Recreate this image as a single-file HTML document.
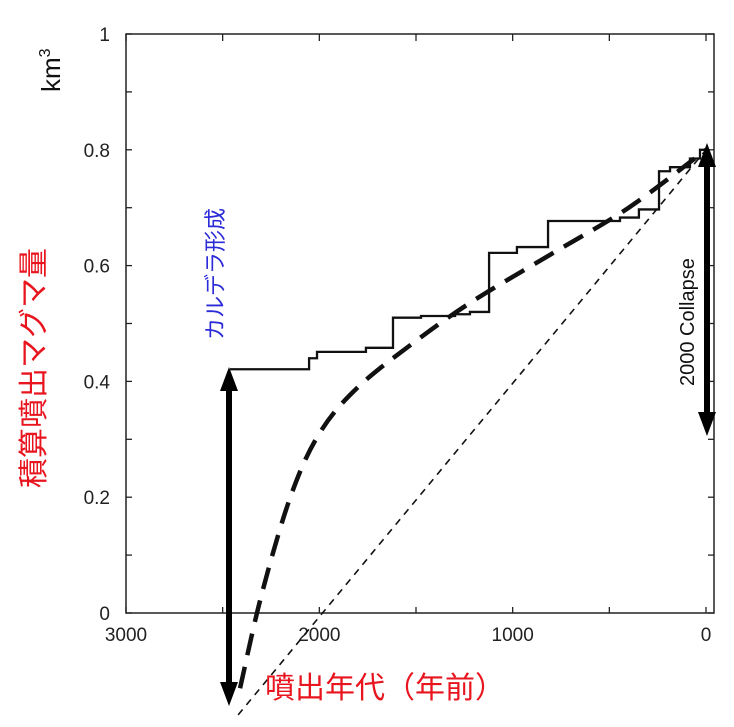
<!DOCTYPE html>
<html><head><meta charset="utf-8"><style>
body{margin:0;background:#fff;}
svg{display:block;font-family:"Liberation Sans","Noto Sans CJK JP",sans-serif;}
</style></head><body>
<svg id="chart" width="734" height="727" viewBox="0 0 734 727">
<g id="axes"></g>
<g id="series"></g>
<g id="ann"></g>
<text x="0" y="0" transform="translate(60,92) rotate(-90)" font-size="26" fill="#111">km<tspan dy="-10" font-size="16">3</tspan></text>
<text x="0" y="0" transform="translate(44,488) rotate(-90)" font-size="30" fill="#e8141e">積算噴出マグマ量</text>
<text x="0" y="0" transform="translate(223,340) rotate(-90)" font-size="22" fill="#2b2bd8">カルデラ形成</text>
<text x="0" y="0" transform="translate(694,386) rotate(-90)" font-size="20" fill="#111">2000 Collapse</text>
<text x="265" y="698" font-size="30" fill="#e8141e">噴出年代（年前）</text>
</svg>
<script>
const xTicks=[3000,2000,1000,0];
const yTicks=[0,0.2,0.4,0.6,0.8,1];
const stepYears=[2462,2053,2012,1759,1619,1474,1298,1221,1122,978,817,445,347,243,186,83,31,0];
const stepValues=[0.421,0.44,0.451,0.458,0.51,0.513,0.516,0.52,0.622,0.632,0.677,0.683,0.697,0.763,0.77,0.785,0.80,0.80];
const curveYears=[2410,2300,2150,2000,1800,1500,1200,800,400,0];
const curveValues=[-0.13,0.03,0.2,0.31,0.39,0.47,0.54,0.62,0.70,0.80];
const lineYears=[2420,0];
const lineValues=[-0.176,0.80];
const NS="http://www.w3.org/2000/svg";
const X0=126,X1=706,Y0=613,Y1=34;
function xs(y){return X0+(3000-y)/3000*(X1-X0);}
function ys(v){return Y0-v*(Y0-Y1);}
function mk(tag,attrs,parent,txt){const e=document.createElementNS(NS,tag);for(const k in attrs)e.setAttribute(k,attrs[k]);if(txt!==undefined)e.textContent=txt;parent.appendChild(e);return e;}
const ax=document.getElementById('axes'),se=document.getElementById('series'),an=document.getElementById('ann');
let fr=mk('rect',{x:X0,y:Y1,width:X1+8-X0,height:Y0-Y1,fill:'none',stroke:'#222','stroke-width':1.5},ax);


for(let v=0;v<=1.0001;v+=0.1){const y=ys(v);mk('line',{x1:X0,x2:X0+6,y1:y,y2:y,stroke:'#222','stroke-width':1.3},ax);mk('line',{x1:X1+8,x2:X1+2,y1:y,y2:y,stroke:'#222','stroke-width':1.3},ax);}
for(let yr=0;yr<=3000;yr+=500){const x=xs(yr);mk('line',{x1:x,x2:x,y1:Y0,y2:Y0-6,stroke:'#222','stroke-width':1.3},ax);mk('line',{x1:x,x2:x,y1:Y1,y2:Y1+7,stroke:'#222','stroke-width':1.3},ax);}
yTicks.forEach(v=>{const t=mk('text',{x:110,y:ys(v)+7,'text-anchor':'end','font-size':19,fill:'#222'},ax,String(v));

});
xTicks.forEach(v=>{const t=mk('text',{x:xs(v),y:641,'text-anchor':'middle','font-size':19,fill:'#222'},ax,String(v));

});
let d=`M${xs(stepYears[0])},${ys(stepValues[0])}`;
for(let i=1;i<stepYears.length;i++){d+=` H${xs(stepYears[i])} V${ys(stepValues[i])}`;}
let sp=mk('path',{d:d,fill:'none',stroke:'#111','stroke-width':2.3},se);


const P=curveYears.map((y,i)=>[xs(y),ys(curveValues[i])]);
let cd=`M${P[0][0]},${P[0][1]}`;
for(let i=0;i<P.length-1;i++){const p0=P[Math.max(0,i-1)],p1=P[i],p2=P[i+1],p3=P[Math.min(P.length-1,i+2)];
cd+=` C${p1[0]+(p2[0]-p0[0])/6},${p1[1]+(p2[1]-p0[1])/6} ${p2[0]-(p3[0]-p1[0])/6},${p2[1]-(p3[1]-p1[1])/6} ${p2[0]},${p2[1]}`;}
let cp=mk('path',{d:cd,fill:'none',stroke:'#111','stroke-width':4.5,'stroke-dasharray':'22,12'},se);


let lp=mk('line',{x1:xs(lineYears[0]),y1:ys(lineValues[0]),x2:xs(lineYears[1]),y2:ys(lineValues[1]),stroke:'#111','stroke-width':1.6,'stroke-dasharray':'7,6'},se);


function darrow(x,yt,yb,name){const g=mk('g',{},an);


mk('line',{x1:x,x2:x,y1:yt+20,y2:yb-20,stroke:'#000','stroke-width':6},g);
mk('polygon',{points:`${x},${yt} ${x-9},${yt+24} ${x+9},${yt+24}`,fill:'#000'},g);
mk('polygon',{points:`${x},${yb} ${x-9},${yb-24} ${x+9},${yb-24}`,fill:'#000'},g);}
darrow(229,367,706,'caldera-collapse-arrow');
darrow(707,143,436,'collapse-volume-arrow');
</script>
</body></html>
